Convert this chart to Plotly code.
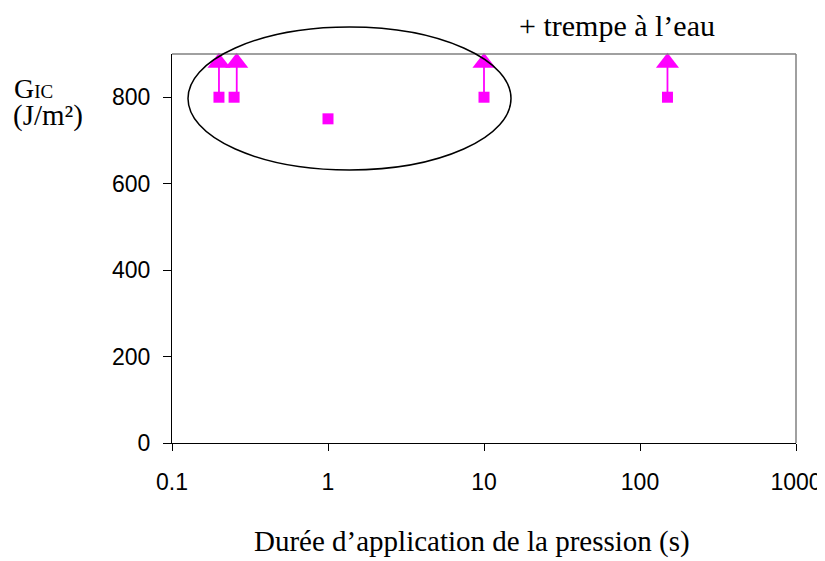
import plotly.graph_objects as go

# Data
duree = [0.2, 0.25, 1, 10, 150]            # s
gic = [800, 800, 750, 800, 800]             # J/m²
trempe_duree = [0.2, 0.26, 10, 150]         # points with water quench
trempe_base = [800, 800, 800, 800]
trempe_gic = [880, 880, 880, 880]

x_ticks = [0.1, 1, 10, 100, 1000]
x_ticktext = ["0.1", "1", "10", "100", "1000"]
y_ticks = [0, 200, 400, 600, 800]

MAGENTA = "#FF00FF"

fig = go.Figure()

# vertical connectors square -> triangle
for xv, y0, y1 in zip(trempe_duree, trempe_base, trempe_gic):
    fig.add_trace(go.Scatter(x=[xv, xv], y=[y0, y1], mode="lines",
                             line=dict(color=MAGENTA, width=1.8),
                             showlegend=False, hoverinfo="skip"))

fig.add_trace(go.Scatter(x=duree, y=gic, mode="markers",
                         marker=dict(symbol="square", size=11, color=MAGENTA),
                         showlegend=False))
fig.add_trace(go.Scatter(x=trempe_duree, y=trempe_gic, mode="markers",
                         marker=dict(symbol="triangle-up", size=20, color=MAGENTA),
                         showlegend=False, cliponaxis=False))

serif = "Liberation Serif, Times New Roman, serif"
sans = "Liberation Sans, Arial, sans-serif"

# page has an 8px body margin: figure is drawn 8px right/down
fig.update_layout(
    width=817, height=553,
    margin=dict(l=164, r=29, t=46, b=118),
    paper_bgcolor="white", plot_bgcolor="white",
    font=dict(family=sans, size=23, color="black"),
    xaxis=dict(type="log", range=[-1, 3], tickvals=x_ticks, ticktext=x_ticktext,
               showgrid=False, zeroline=False, showline=True, linecolor="black",
               linewidth=1.2, ticks="outside", ticklen=7, tickcolor="black",
               ticklabelstandoff=11, automargin=False),
    yaxis=dict(range=[0, 900], tickvals=y_ticks, showgrid=False, zeroline=False,
               showline=True, linecolor="black", linewidth=1.2, ticks="outside",
               ticklen=8, tickcolor="black", ticklabelstandoff=8, automargin=False),
    shapes=[
        dict(type="line", xref="paper", yref="paper", x0=0, x1=1, y0=1, y1=1,
             line=dict(color="#808080", width=1.5)),
        dict(type="line", xref="paper", yref="paper", x0=1, x1=1, y0=0, y1=1,
             line=dict(color="#808080", width=1.5)),
        dict(type="circle", xref="paper", yref="paper",
             x0=(188 - 172) / 624, x1=(511 - 172) / 624,
             y0=(443 - 170) / 389, y1=(443 - 27) / 389,
             line=dict(color="black", width=1.5)),
    ],
    annotations=[
        dict(text="+ trempe à l’eau", xref="paper", yref="paper",
             x=(617 - 172) / 624, y=(443 - 25) / 389, xanchor="center", yanchor="middle",
             showarrow=False, font=dict(family=serif, size=30)),
        dict(text="Durée d’application de la pression (s)", xref="paper", yref="paper",
             x=(472 - 172) / 624, y=(443 - 541) / 389, xanchor="center", yanchor="middle",
             showarrow=False, font=dict(family=serif, size=29)),
        dict(text="G<span style='font-size:19px'>IC</span>", xref="paper", yref="paper",
             x=(12 - 172) / 624, y=(443 - 88) / 389, xanchor="left", yanchor="middle",
             showarrow=False, font=dict(family=serif, size=28)),
        dict(text="(J/m²)", xref="paper", yref="paper",
             x=(11 - 172) / 624, y=(443 - 115) / 389, xanchor="left", yanchor="middle",
             showarrow=False, font=dict(family=serif, size=29)),
    ],
)

fig.write_html("out.html")
